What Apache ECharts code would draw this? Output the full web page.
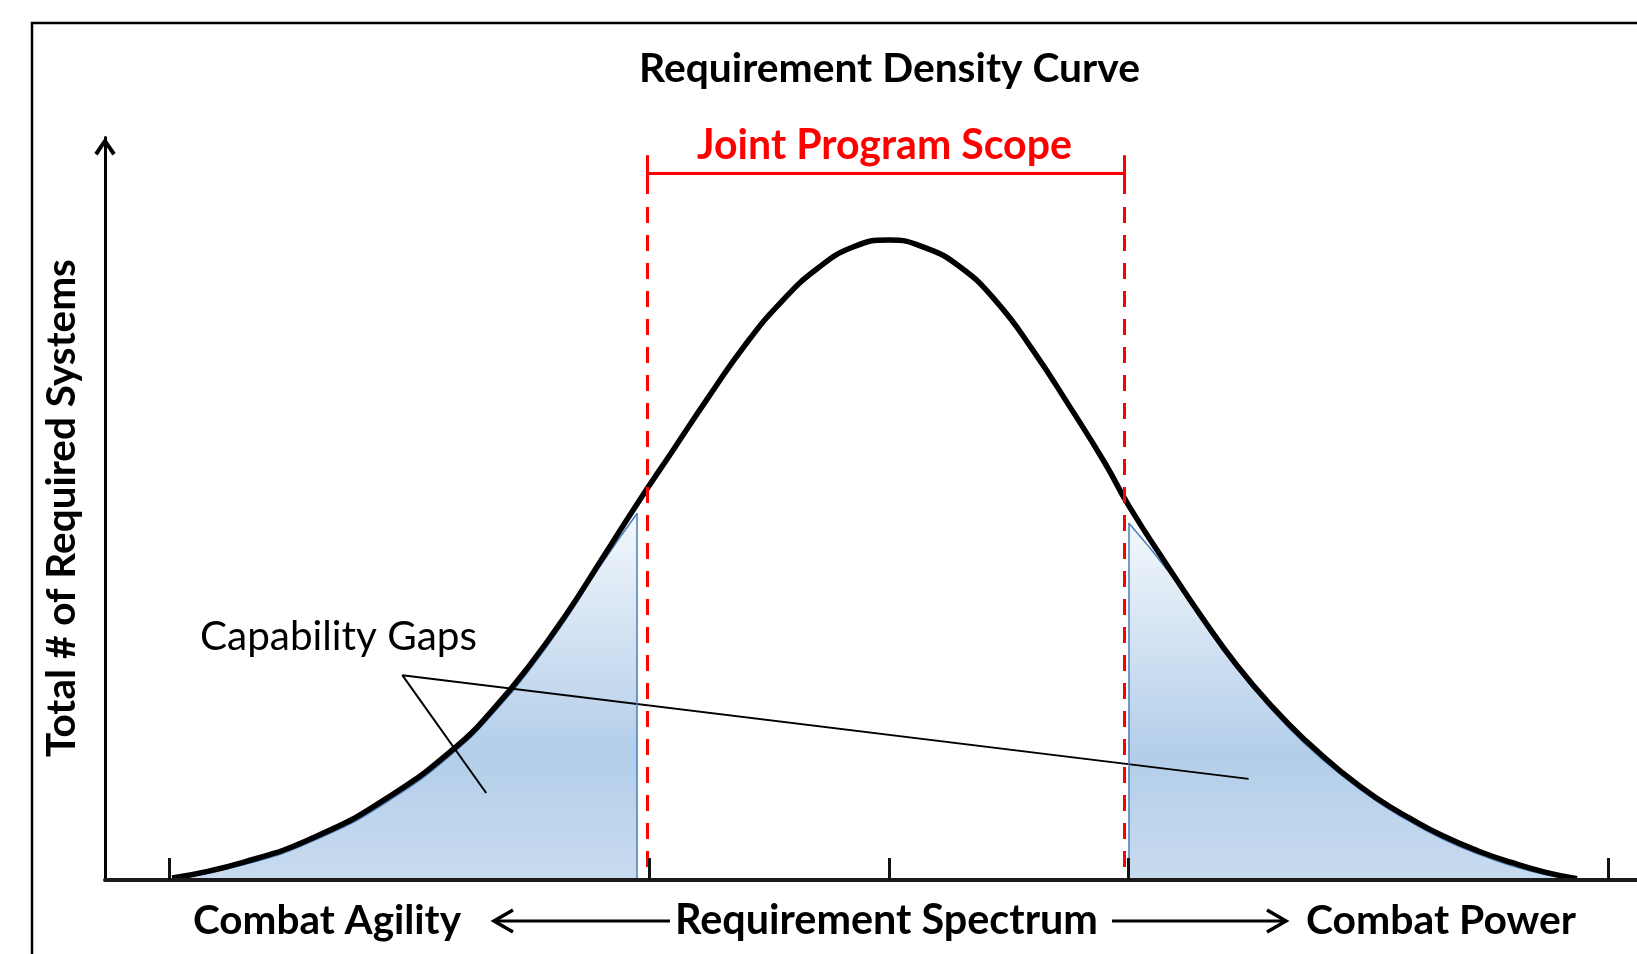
<!DOCTYPE html>
<html>
<head>
<meta charset="utf-8">
<script src="https://cdn.jsdelivr.net/npm/echarts@6/dist/echarts.min.js"></script>
<style>
html,body{margin:0;padding:0;background:#ffffff;}
#chart{width:1637px;height:954px;}
</style>
</head>
<body>
<div id="chart"></div>
<script>
// ---------- data (x in spread units, y relative density) ----------
const spectrumPos  = [-2.99,-2.69,-2.39,-2.09,-1.80,-1.65,-1.50,-1.35,-1.20,-1.05,-0.90,-0.75,-0.60,-0.45,-0.30,-0.15,0.00,0.15,0.30,0.45,0.60,0.75,0.90,1.00,1.17,1.31,1.45,1.60,1.74,1.89,2.03,2.17,2.31,2.46,2.60,2.74,2.87];
const densityVals  = [0.003,0.028,0.068,0.129,0.210,0.267,0.335,0.413,0.500,0.588,0.672,0.756,0.836,0.903,0.955,0.989,1.000,0.988,0.957,0.903,0.828,0.742,0.652,0.585,0.486,0.408,0.336,0.270,0.217,0.168,0.129,0.097,0.069,0.045,0.027,0.012,0.002];

const leftGapPos   = [-3.00,-2.69,-2.39,-2.09,-1.80,-1.65,-1.50,-1.35,-1.20,-1.05];
const leftGapVals  = [0.000,0.024,0.063,0.123,0.204,0.261,0.328,0.406,0.493,0.573];
const rightGapPos  = [1.00,1.17,1.31,1.45,1.60,1.74,1.89,2.03,2.17,2.31,2.46,2.60,2.74,2.86];
const rightGapVals = [0.558,0.480,0.403,0.331,0.265,0.211,0.163,0.124,0.092,0.064,0.040,0.022,0.008,0.000];

const tickValues   = [-3, -1, 0, 1, 3];
const scopeEdges   = [-1.01, 0.98];
const calloutApex  = [-2.03, 0.320];
const calloutEnds  = [[-1.68, 0.136], [1.50, 0.158]];

const titleText    = 'Requirement Density Curve';
const scopeText    = 'Joint Program Scope';
const gapsText     = 'Capability Gaps';
const yAxisText    = 'Total # of Required Systems';
const leftEndText  = 'Combat Agility';
const middleText   = 'Requirement Spectrum';
const rightEndText = 'Combat Power';

// ---------- helpers ----------
const zip = (xs, ys) => xs.map((x, i) => [x, ys[i]]);
const FAMILY = 'Lato';
const mctx = document.createElement('canvas').getContext('2d');
function fitSize(text, weight, target) {
  mctx.font = weight + ' 100px ' + FAMILY;
  return 100 * target / mctx.measureText(text).width;
}
function txt(text, x, y, weight, target, color, rotation) {
  const size = fitSize(text, weight, target);
  const el = {
    type: 'text', x: x, y: y, z: 50, silent: true,
    style: {
      text: text, fill: color || '#000',
      font: weight + ' ' + size.toFixed(2) + 'px ' + FAMILY,
      align: 'center', verticalAlign: 'middle'
    }
  };
  if (rotation) el.rotation = rotation;
  return el;
}

const red = '#ff0000';
function gapGradient() {
  return new echarts.graphic.LinearGradient(0, 0, 0, 1, [
    {offset: 0, color: '#f3f7fc'},
    {offset: 0.65, color: '#b3cee9'},
    {offset: 1, color: '#c8dbef'}
  ]);
}
const blueEdge = {color: '#4a7ebb', width: 1.5, type: 'solid'};

const marks = [];
scopeEdges.forEach(x => {
  marks.push([{coord: [x, 1.0516], lineStyle: {color: red, width: 3, type: [16, 12]}}, {coord: [x, 0.012]}]);
  marks.push([{coord: [x, 1.1325], lineStyle: {color: red, width: 3, type: 'solid'}}, {coord: [x, 1.0719]}]);
});
marks.push([{coord: [scopeEdges[0], 1.105], lineStyle: {color: red, width: 3, type: 'solid'}}, {coord: [scopeEdges[1], 1.105]}]);
calloutEnds.forEach(e => {
  marks.push([{coord: calloutApex, lineStyle: {color: '#000', width: 2, type: 'solid'}}, {coord: e}]);
});
marks.push([{coord: [leftGapPos[leftGapPos.length - 1], leftGapVals[leftGapVals.length - 1]], lineStyle: blueEdge},
            {coord: [leftGapPos[leftGapPos.length - 1], 0]}]);
marks.push([{coord: [rightGapPos[0], rightGapVals[0]], lineStyle: blueEdge}, {coord: [rightGapPos[0], 0]}]);

const chevron = 'path://M0,16 L11,0 L22,16 L18.6,18.6 L11,7 L3.4,18.6 Z';

const option = {
  animation: false,
  backgroundColor: '#ffffff',
  grid: {left: 105, right: 0, top: 137.6, bottom: 74, containLabel: false},
  xAxis: {
    type: 'value', min: -3.27, max: 3.12, z: 5,
    axisLine: {show: true, onZero: false, lineStyle: {color: '#1a1a1a', width: 4}},
    axisTick: {show: true, inside: true, length: 22, customValues: tickValues,
               lineStyle: {color: '#111', width: 3}},
    axisLabel: {show: false},
    splitLine: {show: false}
  },
  yAxis: {
    type: 'value', min: 0, max: 1.16, z: 5,
    axisLine: {show: true, onZero: false, symbol: ['none', chevron], symbolSize: [22, 18], symbolOffset: [0, -9],
               lineStyle: {color: '#000', width: 3}},
    axisTick: {show: false},
    axisLabel: {show: false},
    splitLine: {show: false}
  },
  series: [
    {
      name: 'Left gap', type: 'line', z: 2, smooth: 0.5, symbol: 'none', silent: true,
      data: zip(leftGapPos, leftGapVals),
      lineStyle: blueEdge,
      areaStyle: {color: gapGradient(), opacity: 1}
    },
    {
      name: 'Right gap', type: 'line', z: 2, smooth: 0.5, symbol: 'none', silent: true,
      data: zip(rightGapPos, rightGapVals),
      lineStyle: blueEdge,
      areaStyle: {color: gapGradient(), opacity: 1}
    },
    {
      name: 'Requirement density', type: 'line', z: 3, smooth: 0.5, symbol: 'none', silent: true,
      data: zip(spectrumPos, densityVals),
      lineStyle: {color: '#000', width: 5.5},
      markLine: {
        silent: true, symbol: ['none', 'none'], label: {show: false}, animation: false,
        emphasis: {disabled: true}, data: marks
      }
    }
  ],
  graphic: [
    {type: 'rect', silent: true, z: 1, shape: {x: 32, y: 23, width: 1800, height: 1200},
     style: {fill: 'none', stroke: '#000', lineWidth: 2.5}},
    txt(titleText, 889.5, 68.5, 'bold', 501, '#000'),
    txt(scopeText, 884.5, 146, 'bold', 375, red),
    txt(gapsText, 338.5, 637, 'normal', 277, '#000'),
    txt(yAxisText, 62, 508, 'bold', 498, '#000', Math.PI / 2),
    txt(leftEndText, 327, 920.5, 'bold', 268, '#000'),
    txt(middleText, 886.5, 920.5, 'bold', 423, '#000'),
    txt(rightEndText, 1441, 920.5, 'bold', 270, '#000'),
    {type: 'polyline', silent: true, z: 50, shape: {points: [[670, 921], [494, 921]]},
     style: {stroke: '#000', lineWidth: 3, fill: null}},
    {type: 'polyline', silent: true, z: 50, shape: {points: [[513, 910], [494, 921], [513, 932]]},
     style: {stroke: '#000', lineWidth: 3.5, fill: null, lineJoin: 'miter'}},
    {type: 'polyline', silent: true, z: 50, shape: {points: [[1112, 921], [1286, 921]]},
     style: {stroke: '#000', lineWidth: 3, fill: null}},
    {type: 'polyline', silent: true, z: 50, shape: {points: [[1267, 910], [1286, 921], [1267, 932]]},
     style: {stroke: '#000', lineWidth: 3.5, fill: null, lineJoin: 'miter'}}
  ]
};

const chart = echarts.init(document.getElementById('chart'), null, {renderer: 'canvas'});
chart.setOption(option);
</script>
</body>
</html>
